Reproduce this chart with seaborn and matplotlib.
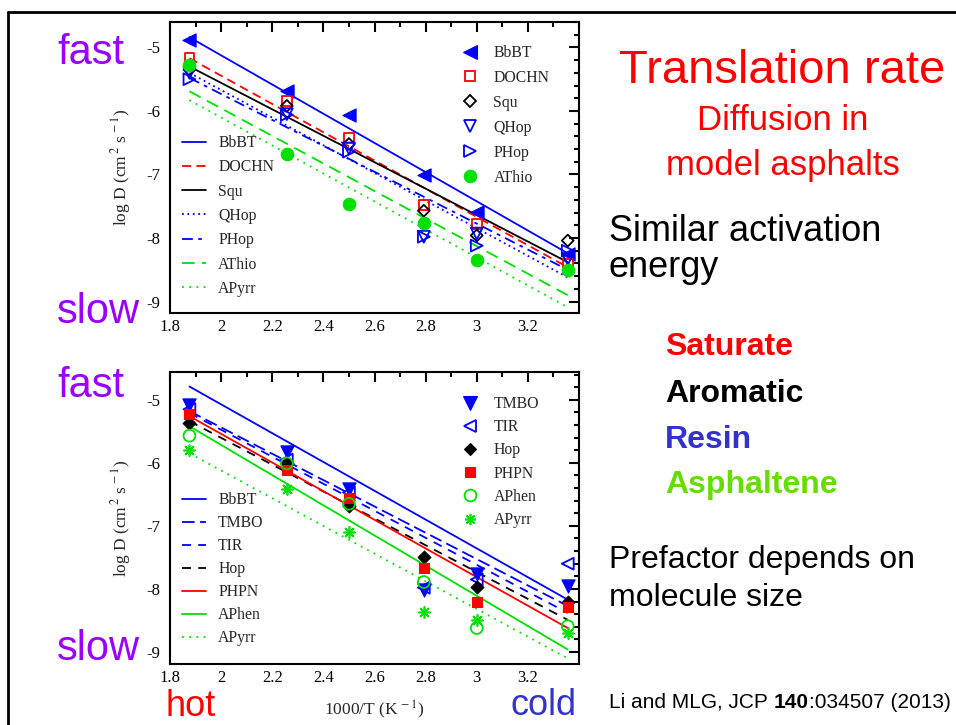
import warnings
warnings.filterwarnings("ignore")
import numpy as np
import pandas as pd
import matplotlib
matplotlib.use("Agg")
import matplotlib.pyplot as plt
import seaborn as sns
from matplotlib.lines import Line2D
from matplotlib.ticker import MultipleLocator, FuncFormatter

# ---------------- data ----------------
inv_T = [1.876, 2.257, 2.5, 2.793, 3.0, 3.356]      # 1000/T (K^-1)
fit_x = [1.876, 3.356]                              # extent of Arrhenius fits

# top panel: simulation points (log D)
top_BbBT  = [-4.89, -5.68, -6.07, -7.01, -7.59, -8.25]
top_DOCHN = [-5.17, -5.84, -6.43, -7.48, -7.78, -8.40]
top_Squ   = [-5.35, -5.92, -6.52, -7.57, -7.96, -8.04]
top_QHop  = [-5.40, -6.05, -6.59, -7.98, -7.93, -8.33]
top_PHop  = [-5.50, -6.06, -6.64, -7.98, -8.12, -8.20]
top_AThio = [-5.27, -6.68, -7.47, -7.76, -8.34, -8.51]

# top panel: fit lines (log D at fit_x ends)
top_fit_names = ["BbBT", "DOCHN", "Squ", "QHop", "PHop", "AThio", "APyrr"]
top_fit_start = [-4.84, -5.17, -5.30, -5.40, -5.48, -5.69, -5.83]
top_fit_end   = [-8.24, -8.46, -8.38, -8.62, -8.50, -8.90, -9.09]

# bottom panel: simulation points (log D)
bot_TMBO  = [-5.08, -5.83, -6.41, -8.01, -7.77, -7.96]
bot_TIR   = [-5.15, -5.95, -6.47, -7.98, -7.85, -7.60]
bot_Hop   = [-5.37, -6.00, -6.69, -7.50, -7.97, -8.21]
bot_PHPN  = [-5.22, -6.11, -6.56, -7.66, -8.21, -8.28]
bot_APhen = [-5.57, -6.01, -6.65, -7.89, -8.62, -8.59]
bot_APyrr = [-5.80, -6.42, -7.09, -8.37, -8.49, -8.70]

# bottom panel: fit lines
bot_fit_names = ["BbBT", "TMBO", "TIR", "Hop", "PHPN", "APhen", "APyrr"]
bot_fit_start = [-4.79, -5.18, -5.21, -5.34, -5.26, -5.42, -5.85]
bot_fit_end   = [-8.17, -8.27, -8.38, -8.49, -8.62, -8.96, -9.10]

x_ticks = [1.8, 2.0, 2.2, 2.4, 2.6, 2.8, 3.0, 3.2]
y_ticks = [-9, -8, -7, -6, -5]

# ---------------- styles ----------------
BLUE, RED, GREEN, BLACK = "#0000ff", "#ff0000", "#00e000", "#000000"

top_pts = [
    ("BbBT", top_BbBT, "<", BLUE, True, 9.5),
    ("DOCHN", top_DOCHN, "s", RED, False, 7),
    ("Squ", top_Squ, "D", BLACK, False, 6),
    ("QHop", top_QHop, "v", BLUE, False, 8.5),
    ("PHop", top_PHop, ">", BLUE, False, 8.5),
    ("AThio", top_AThio, "o", GREEN, True, 9),
]
top_line_style = {
    "BbBT": (BLUE, "-"), "DOCHN": (RED, (0, (5, 3))), "Squ": (BLACK, "-"),
    "QHop": (BLUE, (0, (1, 2))), "PHop": (BLUE, (0, (6, 3, 2, 3))),
    "AThio": (GREEN, (0, (7, 4))), "APyrr": (GREEN, (0, (1, 3))),
}
bot_pts = [
    ("TMBO", bot_TMBO, "v", BLUE, True, 9.5),
    ("TIR", bot_TIR, "<", BLUE, False, 8.5),
    ("Hop", bot_Hop, "D", BLACK, True, 6.5),
    ("PHPN", bot_PHPN, "s", RED, True, 7),
    ("APhen", bot_APhen, "o", GREEN, False, 8.5),
    ("APyrr", bot_APyrr, (8, 2, 0), GREEN, True, 8),
]
bot_line_style = {
    "BbBT": (BLUE, "-"), "TMBO": (BLUE, (0, (7, 3))), "TIR": (BLUE, (0, (5, 4))),
    "Hop": (BLACK, (0, (5, 4))), "PHPN": (RED, "-"), "APhen": (GREEN, "-"),
    "APyrr": (GREEN, (0, (1, 3))),
}

sns.set_style("white")
plt.rcParams["font.family"] = ["Liberation Serif", "DejaVu Serif"]
plt.rcParams["mathtext.fontset"] = "stix"
plt.rcParams["axes.unicode_minus"] = False

W, H = 956, 725
fig = plt.figure(figsize=(W / 100, H / 100), dpi=100)


def fx(px):
    return px / W


def fy(py):
    return 1 - py / H


ax_top = fig.add_axes([fx(170), fy(313), 409 / W, 291 / H])
ax_bot = fig.add_axes([fx(170), fy(664), 409 / W, 292 / H])

LW = 1.3


def draw_panel(ax, names, starts, ends, lstyles, pts):
    for n, s, e in zip(names, starts, ends):
        c, ls = lstyles[n]
        df = pd.DataFrame({"x": fit_x, "y": [s, e]})
        sns.lineplot(data=df, x="x", y="y", color=c, linestyle=ls, lw=LW, ax=ax)
    for n, vals, m, c, filled, ms in pts:
        df = pd.DataFrame({"x": inv_T, "y": vals})
        if isinstance(m, tuple):
            sns.scatterplot(data=df, x="x", y="y", marker=m, s=ms ** 2,
                            color=c, linewidth=1.2, ax=ax, zorder=5)
        elif filled:
            sns.scatterplot(data=df, x="x", y="y", marker=m, s=ms ** 2,
                            color=c, edgecolor=c, linewidth=0.8, ax=ax, zorder=5)
        else:
            sns.scatterplot(data=df, x="x", y="y", marker=m, s=ms ** 2,
                            facecolors="none", edgecolor=c, linewidth=1.3,
                            ax=ax, zorder=5)


draw_panel(ax_top, top_fit_names, top_fit_start, top_fit_end, top_line_style, top_pts)
draw_panel(ax_bot, bot_fit_names, bot_fit_start, bot_fit_end, bot_line_style, bot_pts)

ax_top.set_ylim(-9.18, -4.6)
ax_bot.set_ylim(-9.19, -4.56)

for ax in (ax_top, ax_bot):
    ax.set_xlim(1.8, 3.4)
    ax.set_xticks(x_ticks)
    ax.set_yticks(y_ticks)
    ax.xaxis.set_minor_locator(MultipleLocator(0.1))
    ax.yaxis.set_minor_locator(MultipleLocator(0.2))
    ax.xaxis.set_major_formatter(FuncFormatter(lambda v, p: f"{round(v, 1):g}"))
    ax.yaxis.set_major_formatter(FuncFormatter(lambda v, p: f"{round(v, 1):g}"))
    ax.tick_params(which="both", direction="in", top=True, right=True,
                   width=1.5, colors="black", labelsize=12)
    ax.tick_params(which="major", length=7)
    ax.tick_params(which="minor", length=3.5)
    ax.tick_params(axis="y", which="major", pad=7)
    ax.tick_params(axis="x", which="major", pad=4)
    for sp in ax.spines.values():
        sp.set_linewidth(1.5)
        sp.set_color("black")
    ax.set_ylabel("log D (cm$^{\\,2}$ s$^{\\,-1}$)", fontsize=12.5)
    ax.yaxis.set_label_coords(-0.09, 0.5)
    ax.set_xlabel("")
    ax.set_facecolor("white")

ax_bot.set_xlabel("1000/T (K$^{\\,-1}$)", fontsize=12.5)
ax_bot.xaxis.set_label_coords(0.5, -(699 - 664) / 292)


# ---------------- legends ----------------
def marker_handles(pts):
    hs = []
    for n, vals, m, c, filled, ms in pts:
        if isinstance(m, tuple):
            h = Line2D([], [], marker=m, linestyle="none", markersize=ms,
                       color=c, markeredgewidth=1.2)
        else:
            h = Line2D([], [], marker=m, linestyle="none", markersize=ms,
                       markerfacecolor=c if filled else "none",
                       markeredgecolor=c, markeredgewidth=0.8 if filled else 1.3)
        hs.append(h)
    return hs, [p[0] for p in pts]


def line_handles(names, lstyles):
    hs = [Line2D([], [], color=lstyles[n][0], linestyle=lstyles[n][1], lw=LW)
          for n in names]
    return hs, names


def put_legend(ax, hs, labels, left, top, hl, htp, ls):
    leg = ax.legend(hs, labels, loc="upper left",
                    bbox_to_anchor=(fx(left), fy(top)),
                    bbox_transform=fig.transFigure, frameon=False,
                    fontsize=11.3, handlelength=hl, handletextpad=htp,
                    labelspacing=ls, borderpad=0, borderaxespad=0)
    return leg


h, l = marker_handles(top_pts)
leg1 = put_legend(ax_top, h, l, 462, 45, 1.0, 1.0, 0.57)
ax_top.add_artist(leg1)
h, l = line_handles(top_fit_names, top_line_style)
put_legend(ax_top, h, l, 182, 135, 1.5, 0.8, 0.53)

h, l = marker_handles(bot_pts)
leg3 = put_legend(ax_bot, h, l, 462, 396, 1.0, 1.0, 0.46)
ax_bot.add_artist(leg3)
h, l = line_handles(bot_fit_names, bot_line_style)
put_legend(ax_bot, h, l, 182, 492, 1.5, 0.8, 0.45)

# ---------------- slide text ----------------
SANS = ["Liberation Sans", "DejaVu Sans"]
PURPLE = "#9900ff"


def t(px, py, s, size, color="black", ha="left", weight="normal"):
    return fig.text(fx(px), fy(py), s, fontsize=size, color=color, ha=ha,
                    va="baseline", family=SANS, fontweight=weight)


t(57, 64, "fast", 30, PURPLE)
t(57, 323, "slow", 30, PURPLE)
t(57, 397, "fast", 30, PURPLE)
t(57, 660, "slow", 30, PURPLE)
t(165, 716, "hot", 26, RED)
t(510, 715, "cold", 26, "#3333cc")

t(782, 83, "Translation rate", 34, RED, ha="center")
t(783, 130, "Diffusion in", 25, RED, ha="center")
t(783, 175, "model asphalts", 25, RED, ha="center")
t(609, 241, "Similar activation", 26)
t(609, 277, "energy", 26)
t(665, 355, "Saturate", 23, RED, weight="bold")
t(665, 402, "Aromatic", 23, "black", weight="bold")
t(665, 448, "Resin", 23, "#3333cc", weight="bold")
t(665, 493, "Asphaltene", 23, "#66dd00", weight="bold")
t(609, 568, "Prefactor depends on", 23)
t(609, 606, "molecule size", 23)

# citation with bold volume number
fig.canvas.draw()
renderer = fig.canvas.get_renderer()
c1 = t(609, 708, "Li and MLG, JCP", 15)
x1 = c1.get_window_extent(renderer).x1
space = 0.278 * 15 * 100 / 72
c2 = fig.text((x1 + space) / W, fy(708), "140", fontsize=15, color="black",
              va="baseline", family=SANS, fontweight="bold")
x2 = c2.get_window_extent(renderer).x1
fig.text(x2 / W, fy(708), ":034507 (2013)", fontsize=15, color="black",
         va="baseline", family=SANS)

# slide frame
fig.add_artist(Line2D([fx(8), 1.0], [fy(12), fy(12)], color="black", lw=2,
                      transform=fig.transFigure))
fig.add_artist(Line2D([fx(8), fx(8)], [0.0, fy(12)], color="black", lw=2,
                      transform=fig.transFigure))

fig.savefig("out.png", dpi=100, facecolor="white")
